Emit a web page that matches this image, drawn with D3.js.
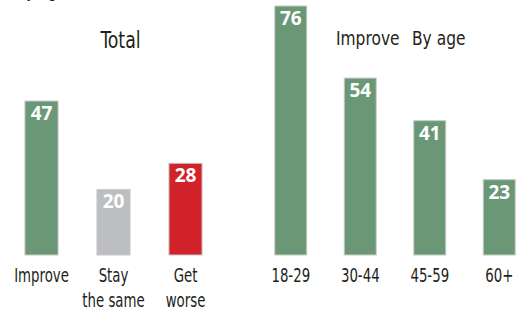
<!DOCTYPE html>
<html>
<head>
<meta charset="utf-8">
<script src="https://cdn.jsdelivr.net/npm/d3@7"></script>
<style>
  body { margin: 0; background: #fff; }
  text { font-family: "DejaVu Sans Condensed", "DejaVu Sans", sans-serif; fill: #231f20; }
  .val { font-family: "Open Sans", sans-serif; font-weight: 700; fill: #fff; }
</style>
</head>
<body>
<div id="chart-container"></div>
<script>
// Data
const totalCats = ["Improve", "Stay the same", "Get worse"];
const totalLabels = [["Improve"], ["Stay", "the same"], ["Get", "worse"]];
const totalValues = [47, 20, 28];
const totalColors = ["#6a9877", "#bdbec1", "#d2232a"];

const ageCats = ["18-29", "30-44", "45-59", "60+"];
const ageValues = [76, 54, 41, 23];
const ageColor = "#6a9877";

const width = 518;
const height = 310;
const baseline = 255;

const svg = d3.select("#chart-container")
    .append("svg")
    .attr("width", width)
    .attr("height", height);

// Shared y scale
const yScale = d3.scaleLinear()
    .domain([0, 76])
    .range([baseline, 6]);

// x scales for both panels
const xTotal = d3.scaleBand()
    .domain(totalCats)
    .range([5.5, 221.5])
    .paddingInner(0.54)
    .paddingOuter(0.27);

const xAge = d3.scaleBand()
    .domain(ageCats)
    .range([256, 534])
    .paddingInner(0.54)
    .paddingOuter(0.27);

// narrow text helper (fakes a condensed face)
function label(parent, x, y, anchor, size, squeeze) {
    return parent.append("text")
        .attr("transform", `translate(${x},${y}) scale(${squeeze || 0.78},1)`)
        .attr("text-anchor", anchor || "start")
        .style("font-size", (size || 19) + "px");
}

// cut-off title at the very top
label(svg, 17, -3, "start", 20, 0.8).text("by age");

// panel titles
label(svg, 120.5, 48, "middle", 23, 0.84).text("Total");
label(svg, 336, 45, "start", 20, 0.86).text("Improve");
label(svg, 412, 45, "start", 20, 0.86).text("By age");

function drawPanel(cats, values, colors, x, labels) {
    const g = svg.append("g");
    const data = cats.map((c, i) => ({ cat: c, value: values[i], color: colors[i], label: labels[i] }));
    const cx = d => x(d.cat) + x.bandwidth() / 2;

    g.selectAll(".bar")
        .data(data)
        .enter().append("rect")
        .attr("class", "bar")
        .attr("x", d => x(d.cat))
        .attr("y", d => yScale(d.value))
        .attr("width", x.bandwidth())
        .attr("height", d => baseline - yScale(d.value))
        .attr("fill", d => d.color)
        .attr("stroke", "#c9c9c9")
        .attr("stroke-width", 1);

    g.selectAll(".val")
        .data(data)
        .enter().append("text")
        .attr("class", "val")
        .attr("x", cx)
        .attr("y", d => yScale(d.value) + 19)
        .attr("text-anchor", "middle")
        .style("font-size", "19px")
        .text(d => d.value);

    data.forEach(d => {
        const t = label(g, cx(d), 282, "middle");
        d.label.forEach((line, i) => {
            t.append("tspan")
                .attr("x", 0)
                .attr("dy", i === 0 ? 0 : 25)
                .text(line);
        });
    });
}

drawPanel(totalCats, totalValues, totalColors, xTotal, totalLabels);
drawPanel(ageCats, ageValues, ageCats.map(() => ageColor), xAge, ageCats.map(c => [c]));
</script>
</body>
</html>
